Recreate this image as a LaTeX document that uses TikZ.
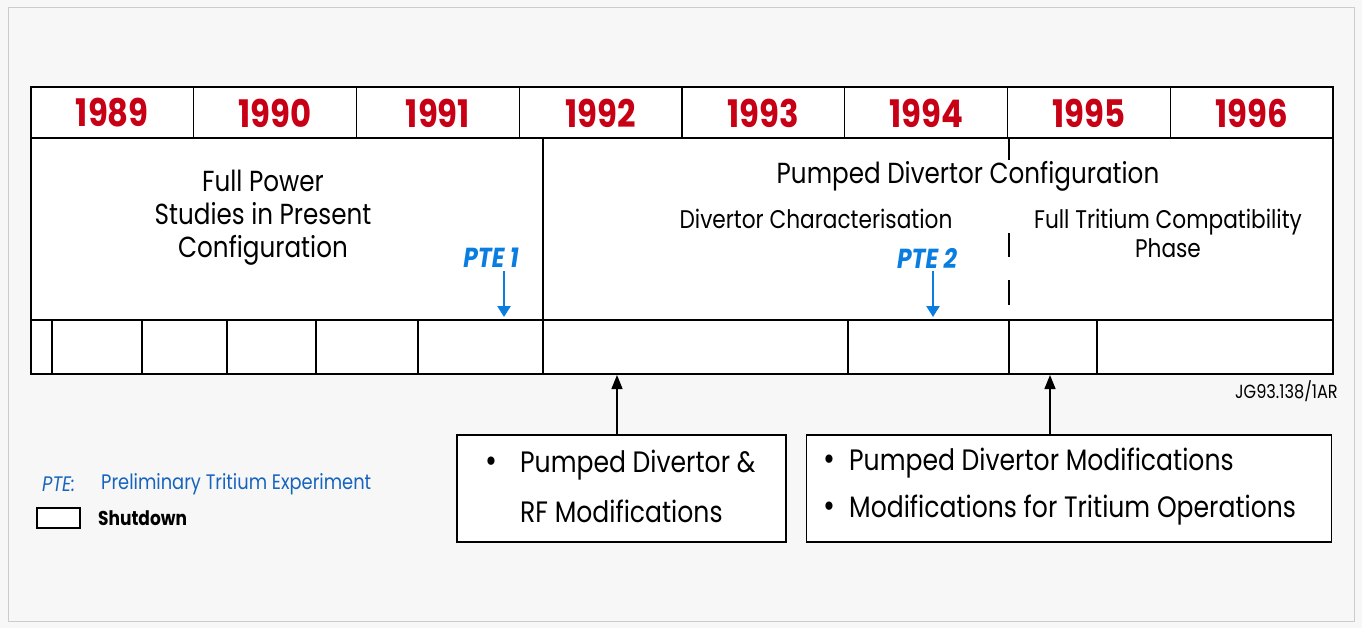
\documentclass[tikz,border=0pt]{standalone}
\usepackage{fontspec}
\setmainfont{Poppins}[FakeStretch=0.85]
\usetikzlibrary{arrows.meta}
\definecolor{yearred}{RGB}{200,0,22}
\definecolor{pteblue}{RGB}{10,125,225}
\definecolor{legblue}{RGB}{22,100,190}
\definecolor{pagebg}{RGB}{247,247,247}
\begin{document}
\begin{tikzpicture}[x=1pt,y=-1pt,
  rule/.style={draw=black, line width=1.4pt},
  yearlbl/.style={font=\fontsize{38}{38}\selectfont\bfseries, text=yearred, inner sep=0},
  phase/.style={font=\fontsize{29}{33}\selectfont, align=center, inner sep=0},
  subphase/.style={font=\fontsize{25.5}{29}\selectfont, align=center, inner sep=0},
  ptelbl/.style={font=\fontsize{27.5}{27.5}\selectfont\bfseries\itshape, text=pteblue, inner sep=0},
  ptearrow/.style={draw=pteblue, line width=2.4pt, -{Triangle[length=11pt,width=13pt]}},
  noteitem/.style={font=\fontsize{29.5}{29.5}\selectfont, anchor=west, inner sep=0},
  bulletmark/.style={font=\fontsize{34}{34}\selectfont, anchor=west, inner sep=0},
  notebox/.style={draw=black, line width=1.4pt, fill=white},
  uparrow/.style={draw=black, line width=1.4pt, -{Triangle[length=14pt,width=11pt]}},
  legtext/.style={font=\fontsize{21}{21}\selectfont, anchor=west, inner sep=0},
]
% page
\fill[pagebg] (0,0) rectangle (1362,628);
\draw[gray!40, line width=1pt] (8,8) rectangle (1354,621);
\useasboundingbox (0,0) rectangle (1362,628);

% timeline table
\fill[white] (31,87) rectangle (1333,374);
\draw[rule] (31,87) rectangle (1333,374);
\draw[rule] (31,138) -- (1333,138);
\draw[rule] (31,320) -- (1333,320);
\foreach \k in {1,...,7}
  \draw[rule] ({31+162.75*\k},87) -- ({31+162.75*\k},138);
\draw[rule] (543,138) -- (543,374);
\draw[rule] (1009,138) -- (1009,160);
\draw[rule] (1009,233) -- (1009,257);
\draw[rule] (1009,280) -- (1009,305);
% shutdown periods
\foreach \x in {52,142,227,316,418,848,1009,1097}
  \draw[rule] (\x,320) -- (\x,374);

% year headings
\foreach \yr [count=\i from 0] in {1989,1990,1991,1992,1993,1994,1995,1996}
  \node[yearlbl] (y\yr) at ({31+162.75*(\i+0.5)},113) {\yr};

% phases
\node[phase] (fullpower) at (263,218) {Full Power\\Studies in Present\\Configuration};
\node[phase] (pumped) at (968,176) {Pumped Divertor Configuration};
\node[subphase] (divchar) at (816,219) {Divertor Characterisation};
\node[subphase] (fulltrit) at (1168,233) {Full Tritium Compatibility\\Phase};

% preliminary tritium experiments
\node[ptelbl] (pte1) at (491,258) {PTE 1};
\coordinate (pte1tip) at (504,317);
\draw[ptearrow] (504,271) -- (pte1tip);
\node[ptelbl] (pte2) at (927,258) {PTE 2};
\coordinate (pte2tip) at (933,317);
\draw[ptearrow] (933,271) -- (pte2tip);

\node[font=\fontsize{19}{19}\selectfont, anchor=east, inner sep=0] (ref) at (1338,391) {JG93.138/1AR};

% modification boxes
\node[notebox, minimum width=329pt, minimum height=107pt, inner sep=0] (box1) at (621.5,488.5) {};
\node[notebox, minimum width=525pt, minimum height=107pt, inner sep=0] (box2) at (1069,488.5) {};
\coordinate (top1) at (617,375);
\coordinate (top2) at (1050,375);
\draw[uparrow] (box1.north -| top1) -- (top1);
\draw[uparrow] (box2.north -| top2) -- (top2);

\node[bulletmark] (b1a) at (485,465) {•};
\node[noteitem] (t1a) at (520,465) {Pumped Divertor \&};
\node[noteitem] (t1b) at (520,511) {RF Modifications};
\node[bulletmark] (b2a) at (823,463) {•};
\node[noteitem] (t2a) at (849,463) {Pumped Divertor Modifications};
\node[bulletmark] (b2b) at (823,510) {•};
\node[noteitem] (t2b) at (849,510) {Modifications for Tritium Operations};

% legend
\node[legtext, font=\fontsize{21}{21}\selectfont\itshape, text=legblue] (pteabbr) at (42,484) {PTE:};
\node[legtext, text=legblue] (ptefull) at (101,484) {Preliminary Tritium Experiment};
\node[draw=black, line width=1.4pt, fill=white, minimum width=43pt, minimum height=20pt, inner sep=0] (shutkey) at (58.5,518) {};
\node[legtext, font=\fontsize{20}{20}\selectfont\bfseries] (shuttext) at (98,518) {Shutdown};
\end{tikzpicture}
\end{document}
